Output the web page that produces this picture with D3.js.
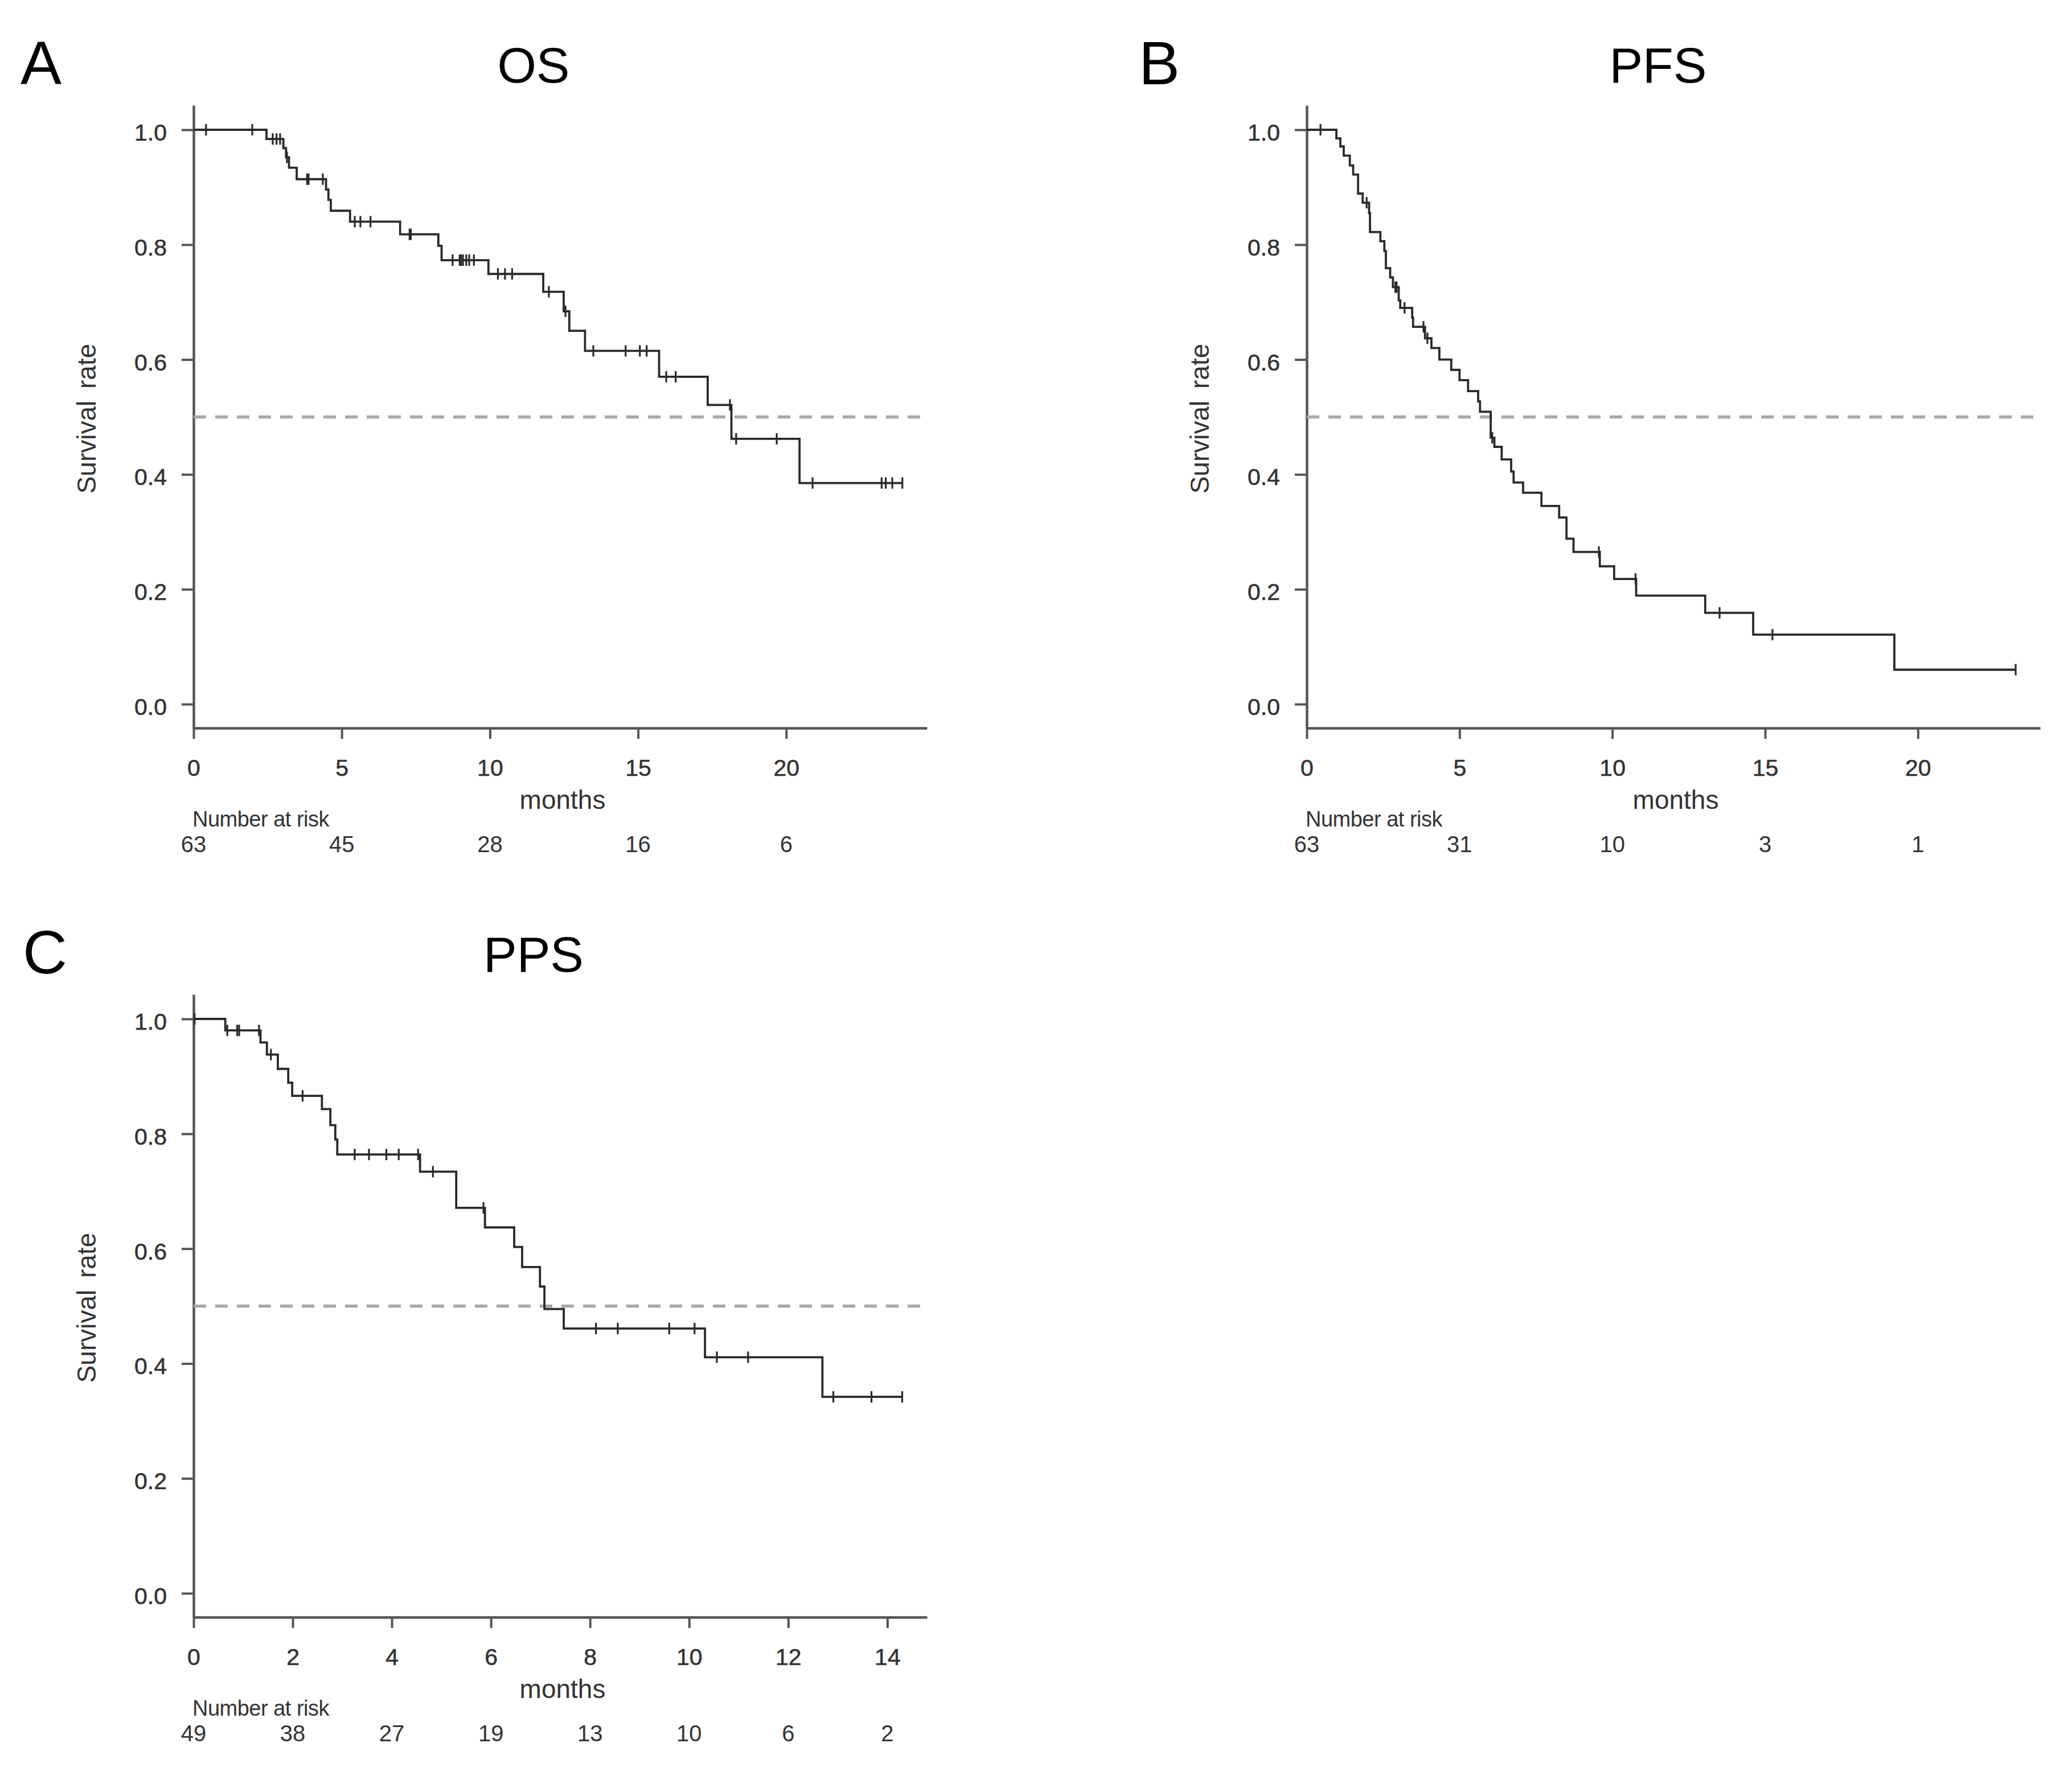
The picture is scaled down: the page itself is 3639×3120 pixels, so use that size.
<!DOCTYPE html>
<html>
<head>
<meta charset="utf-8">
<script src="https://cdn.jsdelivr.net/npm/d3@7"></script>
<style>
  html, body { margin: 0; padding: 0; background: #fff; }
</style>
</head>
<body>
<div id="chart"></div>
<script>
// ── Data ──────────────────────────────────────────────────────────────────
// OS
const osEventTimes = [2.46, 3.03, 3.12, 3.22, 3.48, 4.47, 4.55, 4.63, 5.28, 6.97, 8.26, 8.37,
  9.95, 11.80, 12.49, 12.68, 13.21, 15.71, 17.35, 18.15, 20.45];
const osSurvival   = [0.984, 0.968, 0.952, 0.934, 0.914, 0.896, 0.878, 0.859, 0.840, 0.818, 0.798, 0.773,
  0.749, 0.718, 0.684, 0.650, 0.615, 0.570, 0.521, 0.462, 0.385];
const osCensored   = [0.42, 1.98, 2.67, 2.80, 2.92, 3.15, 3.83, 3.88, 4.36, 5.44, 5.63, 5.97, 7.29, 7.33,
  8.74, 8.98, 9.03, 9.09, 9.20, 9.30, 9.46, 10.27, 10.51, 10.75, 11.99, 12.55, 13.49, 14.58, 15.06,
  15.29, 15.95, 16.27, 18.10, 18.31, 19.68, 20.89, 23.22, 23.36, 23.58, 23.92];
const osTicks  = [0, 5, 10, 15, 20];
const osAtRisk = [63, 45, 28, 16, 6];

// PFS
const pfsEventTimes = [0.97, 1.10, 1.21, 1.41, 1.52, 1.68, 1.83, 2.04, 2.07, 2.41, 2.54, 2.59, 2.73,
  2.82, 3.01, 3.06, 3.45, 3.48, 3.87, 4.08, 4.34, 4.73, 5.00, 5.28, 5.61, 5.67, 6.02, 6.14, 6.38,
  6.69, 6.77, 7.08, 7.68, 8.26, 8.50, 8.73, 9.59, 10.06, 10.78, 13.04, 14.61, 19.23];
const pfsSurvival   = [0.985, 0.971, 0.955, 0.938, 0.922, 0.889, 0.873, 0.855, 0.822, 0.806, 0.789,
  0.759, 0.743, 0.726, 0.703, 0.690, 0.673, 0.657, 0.637, 0.620, 0.600, 0.582, 0.564, 0.545, 0.527,
  0.509, 0.464, 0.448, 0.426, 0.405, 0.386, 0.368, 0.345, 0.325, 0.288, 0.265, 0.240, 0.218, 0.189,
  0.159, 0.121, 0.060];
const pfsCensored   = [0.45, 1.96, 2.90, 2.94, 3.20, 3.82, 3.95, 6.07, 9.56, 10.76, 13.51, 15.24, 23.20];
const pfsTicks  = [0, 5, 10, 15, 20];
const pfsAtRisk = [63, 31, 10, 3, 1];

// PPS
const ppsEventTimes = [0.64, 1.35, 1.48, 1.70, 1.91, 1.99, 2.59, 2.76, 2.86, 2.90, 4.57, 5.30, 5.88,
  6.47, 6.63, 6.99, 7.08, 7.47, 10.32, 12.69];
const ppsSurvival   = [0.980, 0.959, 0.938, 0.913, 0.889, 0.866, 0.843, 0.815, 0.790, 0.764, 0.734,
  0.671, 0.637, 0.603, 0.568, 0.534, 0.495, 0.461, 0.411, 0.342];
const ppsCensored   = [0.02, 0.68, 0.88, 0.92, 1.32, 1.56, 2.20, 3.25, 3.54, 3.89, 4.14, 4.53, 4.83,
  5.85, 8.12, 8.56, 9.60, 10.11, 10.56, 11.19, 12.91, 13.68, 14.30];
const ppsTicks  = [0, 2, 4, 6, 8, 10, 12, 14];
const ppsAtRisk = [49, 38, 27, 19, 13, 10, 6, 2];

const yTicks = [0, 0.2, 0.4, 0.6, 0.8, 1.0];

// ── Figure ────────────────────────────────────────────────────────────────
const svg = d3.select("#chart").append("svg")
  .attr("width", 3639)
  .attr("height", 3120)
  .style("display", "block");

const SANS   = '"Liberation Sans", Arial, sans-serif';
const NARROW = '"Liberation Sans Narrow", "Arial Narrow", "Liberation Sans", Arial, sans-serif';

function kmPanel(opts) {
  const { ox, oy, letter, letterX, title, titleX, xMax, times, surv, censored, ticks, atRisk } = opts;

  const W = 1288;
  const g = svg.append("g").attr("transform", `translate(${ox},${oy})`);

  // y: 1.0 sits 43 px under the axis top, 0.0 sits 42 px above the x axis
  const y = d3.scaleLinear().domain([-0.0416, 1.0426]).range([1094, 0]);
  const x = d3.scaleLinear().domain([0, xMax]).range([0, W]);

  // panel letter + title
  svg.append("text")
    .attr("x", letterX).attr("y", oy - 37)
    .attr("font-family", SANS).attr("font-size", 108).attr("fill", "#000")
    .text(letter);
  svg.append("text")
    .attr("x", titleX).attr("y", oy - 40)
    .attr("text-anchor", "middle")
    .attr("font-family", SANS).attr("font-size", 88).attr("fill", "#000")
    .text(title);

  // ── Axes ──
  const yAxis = g.append("g")
    .call(d3.axisLeft(y).tickValues(yTicks).tickSize(21).tickSizeOuter(0).tickPadding(26)
      .tickFormat(d3.format(".1f")));
  const xAxis = g.append("g")
    .attr("transform", `translate(0,${y(-0.0416)})`)
    .call(d3.axisBottom(x).tickValues(ticks).tickSize(19).tickSizeOuter(0).tickPadding(36)
      .tickFormat(d => d));

  [yAxis, xAxis].forEach(a => {
    a.select(".domain").attr("stroke", "#555").attr("stroke-width", 4.5);
    a.selectAll(".tick line").attr("stroke", "#555").attr("stroke-width", 4);
    a.selectAll(".tick text")
      .attr("font-family", NARROW).attr("font-size", 41).attr("fill", "#333")
      .attr("stroke", "#333").attr("stroke-width", 0.6);
  });
  yAxis.selectAll(".tick text").attr("dy", "0.45em");

  // axis titles
  g.append("text")
    .attr("transform", `translate(-172,${y(0.5) + 3}) rotate(-90)`)
    .attr("text-anchor", "middle")
    .attr("font-family", SANS).attr("font-size", 46).attr("fill", "#333")
    .style("word-spacing", "8px")
    .text("Survival rate");
  g.append("text")
    .attr("x", 648).attr("y", 1236)
    .attr("text-anchor", "middle")
    .attr("font-family", SANS).attr("font-size", 46).attr("fill", "#333")
    .text("months");

  // number at risk
  g.append("text")
    .attr("x", -2).attr("y", 1267)
    .attr("font-family", SANS).attr("font-size", 38).attr("fill", "#333")
    .style("letter-spacing", "-0.5px")
    .text("Number at risk");
  g.selectAll(".risk").data(atRisk).join("text")
    .attr("class", "risk")
    .attr("x", (d, i) => x(ticks[i])).attr("y", 1312)
    .attr("text-anchor", "middle")
    .attr("font-family", SANS).attr("font-size", 40).attr("fill", "#333")
    .text(d => d);

  // median reference
  g.append("line")
    .attr("x1", 0).attr("x2", W - 8)
    .attr("y1", y(0.5)).attr("y2", y(0.5))
    .attr("stroke", "#a8a8a8").attr("stroke-width", 5.5)
    .attr("stroke-dasharray", "22,16");

  // ── KM step curve ──
  const tEnd = d3.max(censored.concat(times));
  const pts = [[0, 1]].concat(times.map((t, i) => [t, surv[i]]));
  pts.push([tEnd, surv[surv.length - 1]]);

  g.append("path")
    .datum(pts)
    .attr("fill", "none")
    .attr("stroke", "#2a2a2a").attr("stroke-width", 3.8)
    .attr("d", d3.line().x(d => x(d[0])).y(d => y(d[1])).curve(d3.curveStepAfter));

  const survAt = t => {
    let s = 1;
    times.forEach((et, i) => { if (et <= t) s = surv[i]; });
    return s;
  };

  g.selectAll(".cens").data(censored).join("line")
    .attr("class", "cens")
    .attr("x1", d => x(d)).attr("x2", d => x(d))
    .attr("y1", d => y(survAt(d)) - 10).attr("y2", d => y(survAt(d)) + 10)
    .attr("stroke", "#2a2a2a").attr("stroke-width", 3.2);
}

kmPanel({ ox: 340, oy: 185, letter: "A", letterX: 36, title: "OS", titleX: 937, xMax: 24.75,
  times: osEventTimes, surv: osSurvival, censored: osCensored, ticks: osTicks, atRisk: osAtRisk });
kmPanel({ ox: 2295, oy: 185, letter: "B", letterX: 2000, title: "PFS", titleX: 2912, xMax: 24.0,
  times: pfsEventTimes, surv: pfsSurvival, censored: pfsCensored, ticks: pfsTicks, atRisk: pfsAtRisk });
kmPanel({ ox: 340, oy: 1747, letter: "C", letterX: 40, title: "PPS", titleX: 937, xMax: 14.8,
  times: ppsEventTimes, surv: ppsSurvival, censored: ppsCensored, ticks: ppsTicks, atRisk: ppsAtRisk });
</script>
</body>
</html>
